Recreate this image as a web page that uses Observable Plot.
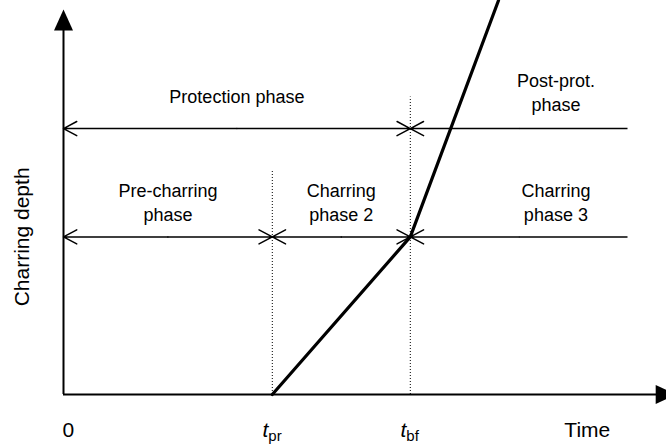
<!DOCTYPE html>
<html><head><meta charset="utf-8">
<script src="https://cdn.jsdelivr.net/npm/d3@7"></script>
<script src="https://cdn.jsdelivr.net/npm/@observablehq/plot@0.6"></script>
<style>html,body{margin:0;padding:0;background:#fff;} #chart svg{display:block}</style>
</head><body><div id="chart"></div>
<script>
// ---- Data (schematic units) ----
const tpr = 3.48;            // start of charring
const tbf = 5.78;            // failure of protection
const lineEnd = 9.4;         // end of phase guide lines
const curveTime  = [3.48, 5.78, 7.25];
const curveDepth = [0, 4, 10];
const levelNames  = ["Charring", "Protection"];
const levelDepths = [4, 6.75];
const phaseLabels = ["Pre-charring\nphase", "Charring\nphase 2", "Charring\nphase 3", "Protection phase", "Post-prot.\nphase"];
const tickText = ["0", "Time"];
const tickTime = [0.08, 8.73];
const subTickMain = ["t", "t"];
const subTickSub = ["pr", "bf"];
const subTickTime = [3.48, 5.78];

// ---- derived tables ----
const curve = curveTime.map((t, i) => ({t, d: curveDepth[i]}));
const ticks = tickText.map((label, i) => ({label, t: tickTime[i]}));
const subTicks = subTickMain.map((m, i) => ({m, s: subTickSub[i], t: subTickTime[i]}));
const charY = levelDepths[0], protY = levelDepths[1];
const segs = [
  {y: protY, a: 0, b: tbf, both: true},
  {y: protY, a: tbf, b: lineEnd, both: false},
  {y: charY, a: 0, b: tpr, both: true},
  {y: charY, a: tpr, b: tbf, both: true},
  {y: charY, a: tbf, b: lineEnd, both: false}
];
const arrows = [];
for (const s of segs) {
  const m = (s.a + s.b) / 2;
  arrows.push({x1: m, x2: s.a, y: s.y});
  arrows.push({x1: m, x2: s.b, y: s.y, head: s.both});
}
const withHead = arrows.filter(d => d.head !== false);
const noHead = arrows.filter(d => d.head === false);

const arrowHead = {draw(ctx) { ctx.moveTo(0, 0); ctx.lineTo(9.5, 21); ctx.lineTo(-9.5, 21); ctx.closePath(); }};
const axisHeads = [{x: 10.22, y: 0, r: 90}, {x: 0, y: 9.77, r: 0}];

const font = "'Liberation Sans', Arial, sans-serif";
const fs = 18;

const chart = Plot.plot({
  width: 666, height: 446,
  marginLeft: 63, marginRight: 3, marginTop: 0, marginBottom: 52,
  x: {domain: [0, 10], axis: null},
  y: {domain: [0, 10], axis: null},
  style: {fontFamily: font, fontSize: fs + "px", color: "black", background: "white", overflow: "visible"},
  marks: [
    // dotted guides
    Plot.ruleX([tpr], {y1: 0, y2: 5.7, stroke: "black", strokeWidth: 1, strokeDasharray: "1,2"}),
    Plot.ruleX([tbf], {y1: 0, y2: 7.55, stroke: "black", strokeWidth: 1, strokeDasharray: "1,2"}),
    // axes
    Plot.ruleY([0], {x1: 0, x2: 10, stroke: "black", strokeWidth: 2}),
    Plot.ruleX([0], {y1: 0, y2: 9.4, stroke: "black", strokeWidth: 2}),
    Plot.dot(axisHeads, {x: "x", y: "y", rotate: "r", symbol: arrowHead, fill: "black", stroke: "none", r: 8}),
    // phase arrows
    Plot.arrow(withHead, {x1: "x1", x2: "x2", y1: "y", y2: "y", stroke: "black", strokeWidth: 1.5, headLength: 15, headAngle: 56}),
    Plot.link(noHead, {x1: "x1", x2: "x2", y1: "y", y2: "y", stroke: "black", strokeWidth: 1.5}),
    // charring curve
    Plot.line(curve, {x: "t", y: "d", stroke: "black", strokeWidth: 3.2, strokeLinejoin: "miter"}),
    // phase labels
    Plot.text([phaseLabels[0]], {x: tpr / 2, y: charY, dy: -16, lineAnchor: "bottom", lineHeight: 1.33, fontSize: fs}),
    Plot.text([phaseLabels[1]], {x: (tpr + tbf) / 2, y: charY, dy: -16, lineAnchor: "bottom", lineHeight: 1.33, fontSize: fs}),
    Plot.text([phaseLabels[2]], {x: (tbf + lineEnd) / 2, dx: 37, y: charY, dy: -16, lineAnchor: "bottom", lineHeight: 1.33, fontSize: fs}),
    Plot.text([phaseLabels[3]], {x: tbf / 2, y: protY, dy: -26, lineAnchor: "bottom", fontSize: fs}),
    Plot.text([phaseLabels[4]], {x: (tbf + lineEnd) / 2, dx: 37, y: protY, dy: -18, lineAnchor: "bottom", lineHeight: 1.33, fontSize: fs}),
    // axis labels
    Plot.text(ticks, {x: "t", y: 0, text: "label", dy: 42, lineAnchor: "bottom", fontSize: 21}),
    Plot.text(subTicks, {x: "t", y: 0, text: "m", dx: -4, dy: 42, lineAnchor: "bottom", textAnchor: "end", fontStyle: "italic", fontSize: 21}),
    Plot.text(subTicks, {x: "t", y: 0, text: "s", dx: -4, dy: 46, lineAnchor: "bottom", textAnchor: "start", fontSize: 15}),
    Plot.text(["Charring depth"], {x: 0, y: charY, dx: -41, rotate: -90, fontSize: 21})
  ]
});
document.getElementById("chart").append(chart);
</script>
</body></html>
